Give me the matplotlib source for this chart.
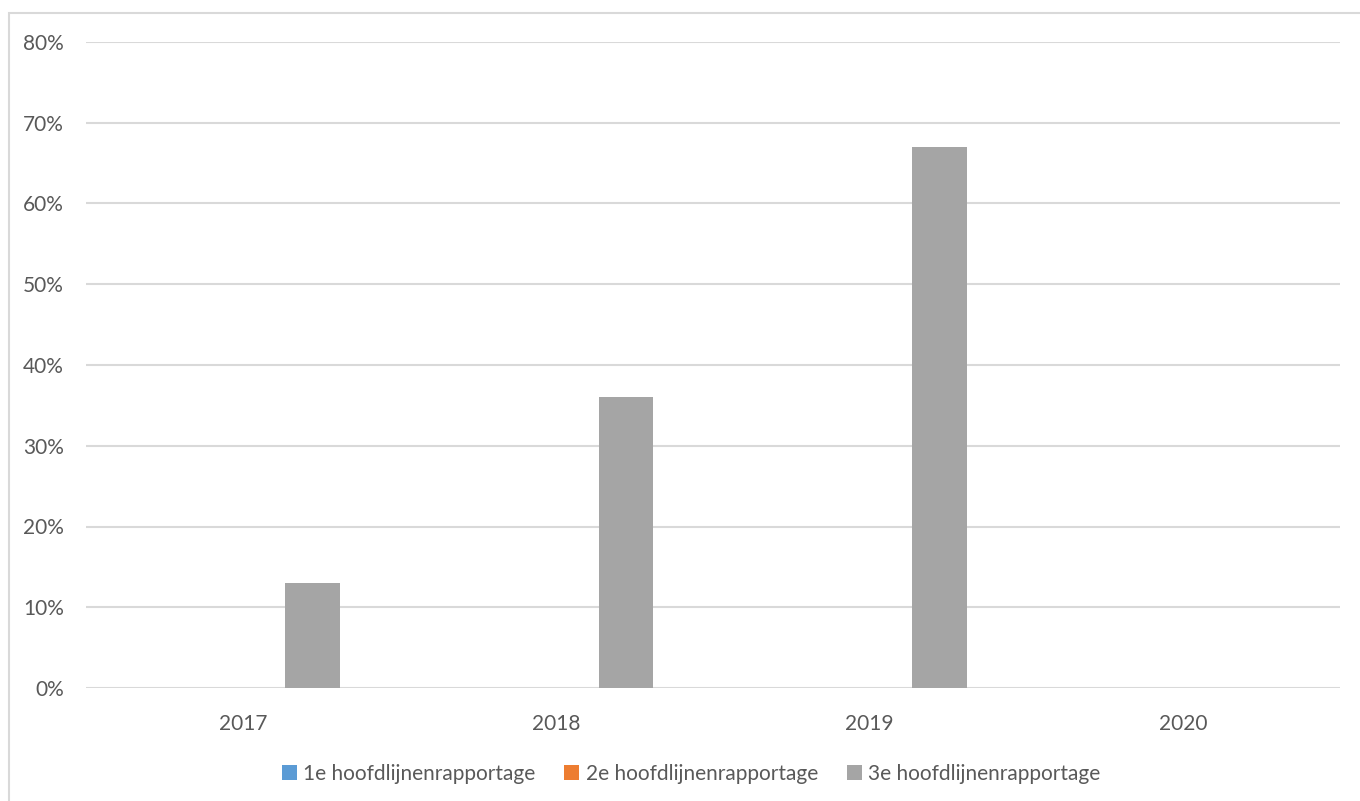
import matplotlib.pyplot as plt
from matplotlib.patches import Patch, Rectangle
from matplotlib.ticker import PercentFormatter
import numpy as np

# Data
years = ["2017", "2018", "2019", "2020"]
series_names = ["1e hoofdlijnenrapportage", "2e hoofdlijnenrapportage", "3e hoofdlijnenrapportage"]
rapportage_1 = [0.0, 0.0, 0.0, 0.0]
rapportage_2 = [0.0, 0.0, 0.0, 0.0]
rapportage_3 = [0.13, 0.36, 0.67, 0.0]
colors = ["#5B9BD5", "#ED7D31", "#A5A5A5"]

TEXT = "#595959"
GRID = "#D9D9D9"
plt.rcParams["font.family"] = ["Lato", "DejaVu Sans"]

W, H = 1360, 801
fig = plt.figure(figsize=(W / 100, H / 100), dpi=100)
ax = fig.add_axes([86 / W, (H - 688) / H, (1340 - 86) / W, (688 - 42) / H])

# chart border (Excel style)
fig.patches.append(Rectangle((9 / W, -0.1), 1.2, (H - 13) / H + 0.1,
                             transform=fig.transFigure, fill=False,
                             edgecolor=GRID, linewidth=1.5))

x = np.arange(len(years))
bar_w = 0.175
offsets = [-0.2225, 0.0, 0.2225]
for vals, off, col, name in zip([rapportage_1, rapportage_2, rapportage_3],
                                offsets, colors, series_names):
    ax.bar(x + off, vals, width=bar_w, color=col, label=name, zorder=3)

ax.set_xlim(-0.5, len(years) - 0.5)
ax.set_ylim(0, 0.8)
ax.set_yticks(np.arange(0, 0.81, 0.1))
ax.yaxis.set_major_formatter(PercentFormatter(1.0, decimals=0))
ax.set_xticks(x)
ax.set_xticklabels(years)
ax.grid(axis="y", color=GRID, linewidth=1.5, zorder=0)
for s in ax.spines.values():
    s.set_visible(False)
ax.tick_params(axis="both", length=0, colors=TEXT, labelsize=15)
ax.tick_params(axis="y", pad=16)
ax.tick_params(axis="x", pad=19)

handles = [Patch(facecolor=c, edgecolor="none") for c in colors]
fig.legend(handles, series_names, loc="center", bbox_to_anchor=(691 / W, (H - 774) / H),
           ncol=3, frameon=False, fontsize=15, labelcolor=TEXT,
           handlelength=0.72, handleheight=0.72, handletextpad=0.3, columnspacing=1.4)

fig.savefig("out.png", dpi=100, facecolor="white")
